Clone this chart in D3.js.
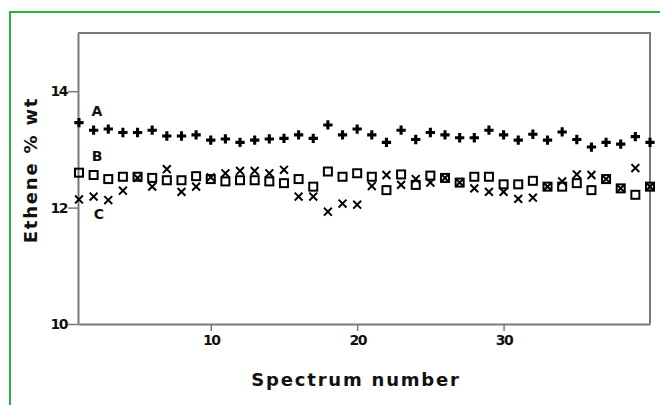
<!DOCTYPE html>
<html>
<head>
<meta charset="utf-8">
<script src="https://cdn.jsdelivr.net/npm/d3@7"></script>
<style>
  html, body { margin: 0; padding: 0; background: #fff; overflow: hidden; }
  svg { display: block; }
  text { font-family: "DejaVu Sans", Verdana, sans-serif; fill: #111; }
</style>
</head>
<body>
<svg id="chart" width="661" height="405"></svg>
<script>
// ---- data ----
const spectrum = d3.range(1, 41);
const seriesA = [13.46, 13.33, 13.35, 13.29, 13.29, 13.33, 13.23, 13.23, 13.25, 13.16,
                 13.18, 13.12, 13.16, 13.18, 13.19, 13.25, 13.19, 13.42, 13.25, 13.35,
                 13.25, 13.12, 13.33, 13.17, 13.29, 13.25, 13.20, 13.20, 13.33, 13.25,
                 13.16, 13.26, 13.16, 13.30, 13.17, 13.04, 13.12, 13.09, 13.22, 13.12];
const seriesB = [12.60, 12.56, 12.49, 12.53, 12.53, 12.51, 12.47, 12.47, 12.54, 12.49,
                 12.45, 12.47, 12.47, 12.45, 12.42, 12.49, 12.36, 12.62, 12.53, 12.59,
                 12.53, 12.30, 12.57, 12.39, 12.55, 12.51, 12.43, 12.53, 12.53, 12.40,
                 12.40, 12.46, 12.36, 12.36, 12.42, 12.30, 12.49, 12.33, 12.22, 12.36];
const seriesC = [12.14, 12.19, 12.13, 12.29, 12.51, 12.36, 12.66, 12.27, 12.36, 12.52,
                 12.59, 12.63, 12.63, 12.59, 12.65, 12.19, 12.19, 11.93, 12.07, 12.05,
                 12.37, 12.56, 12.39, 12.49, 12.43, 12.51, 12.43, 12.33, 12.27, 12.27,
                 12.15, 12.17, 12.36, 12.45, 12.57, 12.56, 12.49, 12.33, 12.68, 12.36];
const xTicks = [10, 20, 30];
const yTicks = [10, 12, 14];
const seriesLabels = ["A", "B", "C"];
const xTitle = "Spectrum number";
const yTitle = "Ethene % wt";

// ---- layout ----
const svg = d3.select("#chart");
const L = 78, R = 650, T = 33, B = 324;

const x = d3.scaleLinear().domain([0.933, 40]).range([L, R]);
const y = d3.scaleLinear().domain([10, 15]).range([B, T]);

// green outer frame (right & bottom edges fall outside the picture)
svg.append("path")
  .attr("d", "M10,420V12H660")
  .attr("fill", "none").attr("stroke", "#27b53a").attr("stroke-width", 2);

// plot frame (top & right)
const frameColor = "#7a7a7a";
svg.append("path")
  .attr("d", `M${L},${T}H${R}V${B}`)
  .attr("fill", "none").attr("stroke", frameColor).attr("stroke-width", 2);

// axes
const xAxis = svg.append("g")
  .attr("transform", `translate(0,${B})`)
  .call(d3.axisBottom(x).tickValues(xTicks).tickFormat(d3.format("d")).tickSize(7).tickSizeOuter(0).tickPadding(4));
const yAxis = svg.append("g")
  .attr("transform", `translate(${L},0)`)
  .call(d3.axisLeft(y).tickValues(yTicks).tickFormat(d3.format("d")).tickSize(10).tickSizeOuter(0).tickPadding(1));

[xAxis, yAxis].forEach(g => {
  g.select(".domain").attr("stroke", frameColor).attr("stroke-width", 2);
  g.selectAll(".tick line").attr("stroke", frameColor).attr("stroke-width", 1.5);
  g.selectAll(".tick text")
    .style("font-family", "'DejaVu Sans', Verdana, sans-serif")
    .style("font-size", "14px").style("font-weight", "bold").attr("fill", "#111")
    .style("letter-spacing", "-1.5px");
});

// markers
const g = svg.append("g");
const crossPath = d3.symbol().type(d3.symbolCross).size(48)();
g.selectAll(".a").data(seriesA).join("path")
  .attr("class", "a")
  .attr("d", crossPath)
  .attr("transform", (d, i) => `translate(${x(spectrum[i])},${y(d)})`)
  .attr("fill", "#000");

g.selectAll(".b").data(seriesB).join("rect")
  .attr("class", "b")
  .attr("x", (d, i) => x(spectrum[i]) - 4)
  .attr("y", d => y(d) - 4)
  .attr("width", 8).attr("height", 8)
  .attr("fill", "none").attr("stroke", "#000").attr("stroke-width", 2);

const xPath = d3.symbol().type(d3.symbolX).size(42)();
g.selectAll(".c").data(seriesC).join("path")
  .attr("class", "c")
  .attr("d", xPath)
  .attr("transform", (d, i) => `translate(${x(spectrum[i])},${y(d)})`)
  .attr("fill", "none").attr("stroke", "#000").attr("stroke-width", 2);

// series labels
const labelPos = [[97, 116], [97, 161], [99, 219]];
svg.selectAll(".lab").data(seriesLabels).join("text")
  .attr("class", "lab")
  .attr("x", (d, i) => labelPos[i][0])
  .attr("y", (d, i) => labelPos[i][1])
  .attr("text-anchor", "middle")
  .style("font-size", "14px").style("font-weight", "bold")
  .text(d => d);

// axis titles
svg.append("text")
  .attr("x", 356).attr("y", 386)
  .attr("text-anchor", "middle")
  .style("font-size", "18px").style("font-weight", "bold").style("letter-spacing", "1.8px")
  .text(xTitle);

svg.append("text")
  .attr("transform", "translate(37,170) rotate(-90)")
  .attr("text-anchor", "middle")
  .style("font-size", "18px").style("font-weight", "bold").style("letter-spacing", "1.8px")
  .text(yTitle);
</script>
</body>
</html>
